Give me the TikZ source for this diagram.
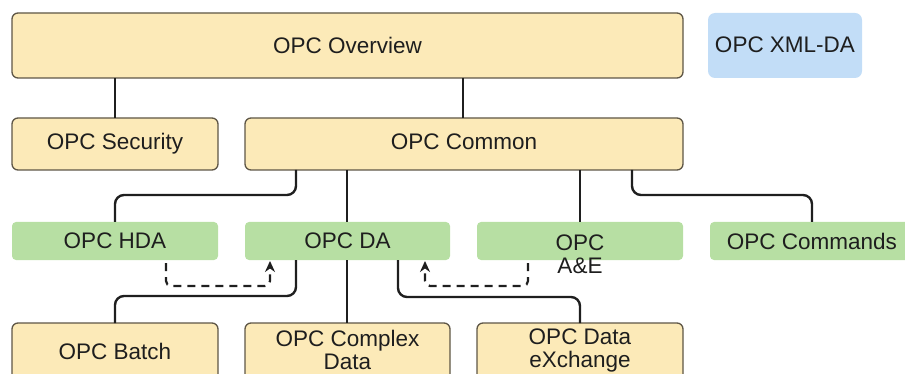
\documentclass[tikz,border=0pt]{standalone}
\usepackage{fontspec}
\setmainfont{Liberation Sans}
\usetikzlibrary{arrows.meta}
\definecolor{boxfill}{HTML}{FCEAB8}
\definecolor{boxline}{HTML}{5E5646}
\definecolor{greenfill}{HTML}{B7DFA3}
\definecolor{bluefill}{HTML}{C2DDF7}
\definecolor{txt}{HTML}{1E1E1E}
\tikzset{
  ybox/.style={draw=boxline, line width=1.3pt, fill=boxfill, rounded corners=6pt},
  gbox/.style={fill=greenfill, rounded corners=4pt},
  bbox/.style={fill=bluefill, rounded corners=7pt},
  lbl/.style={font=\fontsize{22.5}{26}\selectfont, text=txt, align=center},
  link/.style={line width=2.4pt, draw=black!88, rounded corners=9pt},
  dlink/.style={line width=2.2pt, draw=black!88, dash pattern=on 8pt off 6pt, rounded corners=5pt, -{Stealth[length=11pt,width=10pt]}},
}
\begin{document}
\begin{tikzpicture}[x=1pt,y=-1pt]
\useasboundingbox (0,0) rectangle (905,374);
% boxes
\draw[ybox] (12,13) rectangle (683,78);
\node[lbl] (ov) at (347.5,45) {OPC Overview};
\fill[bbox] (708,13) rectangle (862,78);
\node[lbl] (xml) at (785,45) {OPC XML-DA};
\draw[ybox] (12,118) rectangle (218,170);
\node[lbl] (sec) at (115,144) {OPC Security};
\draw[ybox] (245,118) rectangle (683,170);
\node[lbl] (com) at (464,142) {OPC Common};
% green row
\fill[gbox] (12,222) rectangle (218,260);
\node[lbl] (hda) at (115,241) {OPC HDA};
\fill[gbox] (245,222) rectangle (450,260);
\node[lbl] (da) at (347.5,241) {OPC DA};
\fill[gbox] (477,222) rectangle (683,260);
\node[lbl, text depth=0pt] (ae) at (580,254) {OPC\\[-3pt]A\&E};
\fill[gbox] (710,222) rectangle (910,260);
\node[lbl] (cmd) at (812,241) {OPC Commands};
% bottom row
\draw[ybox] (12,323) rectangle (218,385);
\node[lbl] (bat) at (115,351) {OPC Batch};
\draw[ybox] (245,323) rectangle (450,385);
\node[lbl] (cx) at (347.5,350) {OPC Complex\\[-3pt]Data};
\draw[ybox] (477,323) rectangle (683,385);
\node[lbl] (dx) at (580,350) {OPC Data\\[-3pt]eXchange};
% solid connectors
\draw[link] (115,78) -- (115,118);
\draw[link] (463,78) -- (463,118);
\draw[link] (296,170) -- (296,195) -- (115,195) -- (115,222);
\draw[link] (347,170) -- (347,222);
\draw[link] (580,170) -- (580,222);
\draw[link] (632,170) -- (632,195) -- (812,195) -- (812,222);
\draw[link] (296,260) -- (296,296) -- (115,296) -- (115,323);
\draw[link] (347,260) -- (347,323);
\draw[link] (398,260) -- (398,297) -- (580,297) -- (580,323);
% dashed links into OPC DA
\draw[dlink] (166,263) -- (166,286) -- (270,286) -- (270,261);
\draw[dlink] (528,263) -- (528,286) -- (425,286) -- (425,261);
\end{tikzpicture}
\end{document}
